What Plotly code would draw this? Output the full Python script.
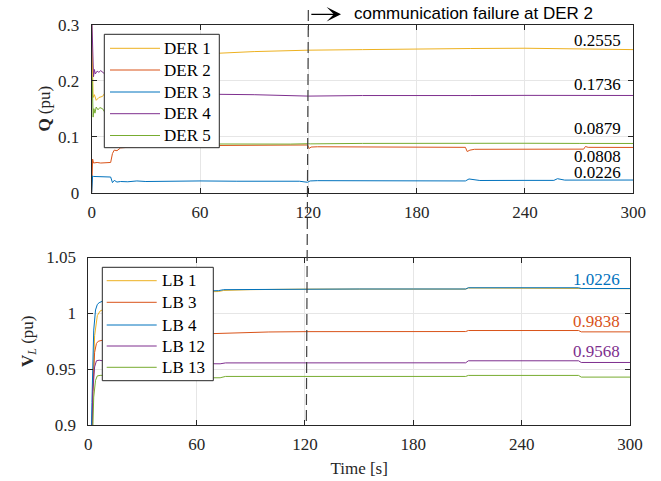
import plotly.graph_objects as go

W, H = 661, 481

# ---------------- data ----------------
time_ticks = [0, 60, 120, 180, 240, 300]
q_ticks = [0, 0.1, 0.2, 0.3]
q_tick_text = ["0", "0.1", "0.2", "0.3"]
v_ticks = [0.9, 0.95, 1.0, 1.05]
v_tick_text = ["0.9", "0.95", "1", "1.05"]

der1_t = [0, 0.3, 0.8, 1.5, 2.5, 4, 6, 10, 20, 40, 70, 90, 120, 150, 180, 210, 240, 270, 300]
der1_q = [0.30, 0.22, 0.17, 0.175, 0.165, 0.17, 0.172, 0.19, 0.215, 0.24, 0.249, 0.252, 0.2545,
          0.2555, 0.257, 0.2575, 0.258, 0.2565, 0.2555]

der2_t = [0, 0.5, 1, 3, 5, 8, 10.5, 11.5, 12.5, 14, 16, 20, 30, 50, 70, 100, 119.5, 120.5, 121.5,
          125, 150, 180, 207, 208, 209.5, 212, 240, 270, 272.5, 273.5, 275, 300]
der2_q = [0.0, 0.06, 0.053, 0.054, 0.053, 0.054, 0.054, 0.07, 0.076, 0.075, 0.08, 0.081, 0.083,
          0.084, 0.0845, 0.085, 0.0852, 0.079, 0.0815, 0.082, 0.0815, 0.081, 0.081, 0.0735, 0.076,
          0.0775, 0.0778, 0.0778, 0.0778, 0.0825, 0.081, 0.0808]

der3_t = [0, 0.5, 1, 3, 6, 10.5, 11.5, 12.5, 14, 16, 20, 25, 30, 40, 50, 60, 80, 100, 115, 119.5,
          121, 125, 150, 180, 207, 209, 215, 240, 256, 258, 262, 300]
der3_q = [0.0, 0.03, 0.029, 0.029, 0.0285, 0.028, 0.018, 0.022, 0.019, 0.020, 0.0195, 0.021, 0.020,
          0.0205, 0.020, 0.021, 0.0205, 0.0208, 0.0205, 0.0186, 0.021, 0.0215, 0.021, 0.0212, 0.021,
          0.0245, 0.0218, 0.022, 0.022, 0.025, 0.0225, 0.0226]

der4_t = [0, 0.5, 1, 1.5, 2, 3, 4, 5, 6, 8, 15, 30, 60, 70, 90, 110, 120, 150, 180, 210, 240, 270, 300]
der4_q = [0.32, 0.25, 0.207, 0.22, 0.212, 0.217, 0.215, 0.218, 0.215, 0.21, 0.195, 0.183, 0.177,
          0.1757, 0.175, 0.174, 0.1725, 0.1735, 0.173, 0.1735, 0.1738, 0.1742, 0.1736]

der5_t = [0, 0.3, 0.8, 1.2, 1.8, 2.5, 3.5, 4.5, 6, 10, 20, 40, 70, 90, 110, 120, 121, 150, 180,
          210, 240, 270, 300]
der5_q = [0.21, 0.20, 0.135, 0.15, 0.142, 0.153, 0.148, 0.152, 0.15, 0.13, 0.10, 0.09, 0.087, 0.0865,
          0.0868, 0.0875, 0.0872, 0.088, 0.0885, 0.0882, 0.0883, 0.088, 0.0879]

lb1_t = [0, 2, 2.5, 3.5, 5, 6.5, 10, 20, 40, 60, 69, 72, 75, 90, 120, 150, 180, 209, 210.5, 240,
         271.5, 273, 300]
lb1_v = [0.88, 0.88, 0.93, 0.98, 0.998, 1.002, 1.005, 1.01, 1.016, 1.019, 1.0194, 1.0195, 1.0205,
         1.0212, 1.0217, 1.0217, 1.0217, 1.0217, 1.0227, 1.0227, 1.0227, 1.0221, 1.0221]

lb3_t = [0, 1.8, 2.5, 3.5, 4.5, 5.5, 8, 15, 30, 50, 69, 100, 120, 150, 180, 209, 210.5, 240,
         271.5, 273, 300]
lb3_v = [0.88, 0.88, 0.93, 0.965, 0.973, 0.975, 0.976, 0.978, 0.98, 0.981, 0.9821, 0.9833, 0.9836,
         0.9837, 0.9837, 0.9837, 0.9846, 0.9846, 0.9846, 0.9834, 0.9834]

lb4_t = [0, 1.5, 2, 3, 4, 5, 6, 8, 12, 20, 40, 60, 69, 72, 75, 90, 120, 150, 180, 209, 210.5, 240,
         271.5, 273, 300]
lb4_v = [0.88, 0.88, 0.92, 0.985, 1.003, 1.008, 1.0095, 1.011, 1.013, 1.016, 1.019, 1.0202, 1.0203,
         1.0203, 1.0212, 1.0214, 1.0218, 1.0218, 1.0218, 1.0218, 1.0229, 1.0229, 1.0229, 1.0222, 1.0222]

lb12_t = [0, 2, 2.5, 3.5, 4.5, 6, 10, 20, 40, 69, 73, 76, 100, 150, 209, 210.5, 271.5, 273, 300]
lb12_v = [0.88, 0.88, 0.93, 0.952, 0.9575, 0.958, 0.957, 0.956, 0.9552, 0.9548, 0.9548, 0.9556,
          0.9557, 0.9557, 0.9557, 0.9575, 0.9575, 0.956, 0.956]

lb13_t = [0, 2.2, 3, 4, 5, 7, 15, 30, 69, 73, 76, 150, 209, 210.5, 271.5, 273, 300]
lb13_v = [0.88, 0.88, 0.925, 0.94, 0.944, 0.9445, 0.943, 0.9425, 0.9423, 0.9423, 0.9435, 0.9435,
          0.9435, 0.9444, 0.9444, 0.9429, 0.9429]

top_names = ["DER 1", "DER 2", "DER 3", "DER 4", "DER 5"]
bot_names = ["LB 1", "LB 3", "LB 4", "LB 12", "LB 13"]
final_q_labels = ["0.2555", "0.1736", "0.0879", "0.0808", "0.0226"]
final_v_labels = ["1.0226", "0.9838", "0.9568"]
event_time = 120
event_text = "communication failure at DER 2"

# ---------------- styles ----------------
YEL, RED, BLU, PUR, GRN = "#EDB120", "#D95319", "#0072BD", "#7E2F8E", "#77AC30"
SERIF = "Liberation Serif, Times New Roman, serif"
SANS = "Liberation Sans, Arial, sans-serif"
FS = 17
AX = "#262626"
GRID = "#e6e6e6"
LW = 1.0

def px_x(p):
    return p / W

def px_y(p):
    return 1 - p / H

fig = go.Figure()

top_series = [(der1_t, der1_q, YEL), (der2_t, der2_q, RED), (der3_t, der3_q, BLU),
              (der4_t, der4_q, PUR), (der5_t, der5_q, GRN)]
for name, (t, q, c) in zip(top_names, top_series):
    fig.add_trace(go.Scatter(x=t, y=q, mode="lines", name=name, line=dict(color=c, width=LW),
                             xaxis="x", yaxis="y", showlegend=False))

bot_series = [(lb1_t, lb1_v, YEL), (lb3_t, lb3_v, RED), (lb4_t, lb4_v, BLU),
              (lb12_t, lb12_v, PUR), (lb13_t, lb13_v, GRN)]
for name, (t, v, c) in zip(bot_names, bot_series):
    fig.add_trace(go.Scatter(x=t, y=v, mode="lines", name=name, line=dict(color=c, width=LW),
                             xaxis="x2", yaxis="y2", showlegend=False))

axis_common = dict(showline=True, linecolor=AX, linewidth=1, mirror="ticks", ticks="inside",
                   ticklen=5, tickcolor=AX, tickwidth=1, showgrid=True, gridcolor=GRID,
                   gridwidth=1, zeroline=False,
                   tickfont=dict(family=SERIF, size=FS, color=AX))

fig.update_layout(
    width=W, height=H, autosize=False,
    margin=dict(l=0, r=0, t=0, b=0),
    paper_bgcolor="white", plot_bgcolor="white",
    showlegend=False,
    hovermode=False,
    xaxis=dict(domain=[px_x(91.7), px_x(633.3)], range=[0, 300], tickvals=time_ticks,
               anchor="y", automargin=False, ticklabelstandoff=4, **axis_common),
    yaxis=dict(domain=[px_y(192.7), px_y(24.7)], range=[0, 0.3], tickvals=q_ticks,
               ticktext=q_tick_text, anchor="x", automargin=False, ticklabelstandoff=8,
               title=dict(text="<b>Q</b> (pu)", font=dict(family=SERIF, size=FS, color=AX),
                          standoff=3),
               **axis_common),
    xaxis2=dict(domain=[px_x(88.3), px_x(630)], range=[0, 300], tickvals=time_ticks,
                anchor="y2", automargin=False, ticklabelstandoff=4,
                title=dict(text="Time [s]", font=dict(family=SERIF, size=FS, color=AX), standoff=8),
                **axis_common),
    yaxis2=dict(domain=[px_y(425), px_y(257.5)], range=[0.9, 1.05], tickvals=v_ticks,
                ticktext=v_tick_text, anchor="x2", automargin=False, ticklabelstandoff=8,
                title=dict(text="<b>V</b><sub><i>L</i></sub> (pu)",
                           font=dict(family=SERIF, size=FS, color=AX), standoff=8),
                **axis_common),
)

# ---------------- legends (boxes drawn above the curves, like the original) ----------------
def add_legend(names, colors, box, line_x, text_x, rows_y):
    x0, x1, y0, y1 = box
    fig.add_shape(type="rect", xref="paper", yref="paper", layer="above",
                  x0=px_x(x0), x1=px_x(x1), y0=px_y(y1), y1=px_y(y0),
                  fillcolor="white", line=dict(color=AX, width=1))
    for name, c, yy in zip(names, colors, rows_y):
        fig.add_shape(type="line", xref="paper", yref="paper", layer="above",
                      x0=px_x(line_x[0]), x1=px_x(line_x[1]), y0=px_y(yy), y1=px_y(yy),
                      line=dict(color=c, width=LW))
        fig.add_annotation(text=name, xref="paper", yref="paper", x=px_x(text_x), y=px_y(yy),
                           xanchor="left", yanchor="middle", showarrow=False,
                           font=dict(family=SERIF, size=FS, color="black"))

series_colors = [YEL, RED, BLU, PUR, GRN]
add_legend(top_names, series_colors, (104.3, 219.3, 34.3, 147.7), (110, 160), 161.5,
           [48.3, 70, 92, 113.7, 135.5])
add_legend(bot_names, series_colors, (102.3, 213.3, 267.3, 380.7), (106.7, 156.7), 159.5,
           [280.7, 302.3, 325, 346, 367.3])

# final value labels
q_label_y = [41, 85, 129, 156.7, 172]
for txt, yy in zip(final_q_labels, q_label_y):
    fig.add_annotation(text=txt, xref="paper", yref="paper", x=px_x(623), y=px_y(yy),
                       xanchor="right", yanchor="middle", showarrow=False,
                       font=dict(family=SERIF, size=FS, color="black"))
v_label_y = [279, 321.7, 351]
for txt, yy, c in zip(final_v_labels, v_label_y, [BLU, RED, PUR]):
    fig.add_annotation(text=txt, xref="paper", yref="paper", x=px_x(622), y=px_y(yy),
                       xanchor="right", yanchor="middle", showarrow=False,
                       font=dict(family=SERIF, size=FS, color=c))

# event marker: dashed line + arrow + text
ev_px = 91.7 + event_time / 300 * (633.3 - 91.7)
fig.add_shape(type="line", xref="paper", yref="paper", x0=px_x(ev_px), x1=px_x(ev_px - 2),
              y0=px_y(10), y1=px_y(425), line=dict(color="#404040", width=1.2, dash="11px,5px"))
fig.add_annotation(text=" ", xref="paper", yref="paper", x=px_x(341), y=px_y(14.3),
                   ax=-(341 - ev_px), ay=0, axref="pixel", ayref="pixel", showarrow=True,
                   arrowhead=3, arrowsize=2, arrowwidth=1.2, arrowcolor="black")
fig.add_annotation(text=event_text, xref="paper", yref="paper", x=px_x(352), y=px_y(13.5),
                   xanchor="left", yanchor="middle", showarrow=False,
                   font=dict(family=SANS, size=FS, color="black"))

# remove the default 8px page margin so the 661x481 figure fills the window exactly
fig.write_html("out.html", config={"displayModeBar": False, "staticPlot": True},
               post_script="document.body.style.margin='0';document.body.style.overflow='hidden';")
